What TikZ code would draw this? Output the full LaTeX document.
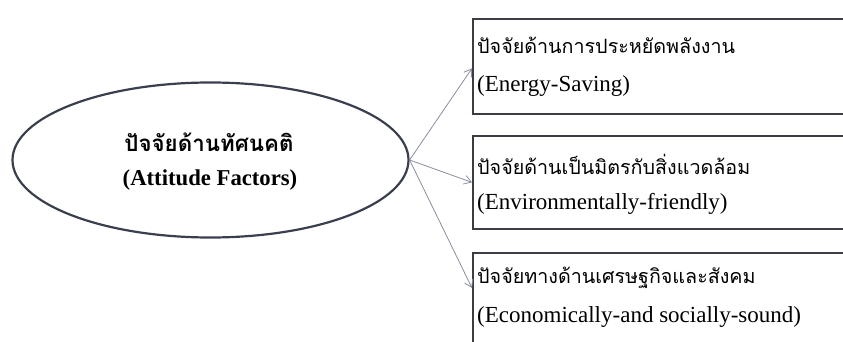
\documentclass[tikz,border=0pt]{standalone}
\usepackage{fontspec}
\setmainfont{Liberation Serif}
\newfontfamily\thaifont[Script=Thai]{Loma}
\usetikzlibrary{shapes.geometric,arrows.meta,calc}
\definecolor{rimcol}{HTML}{3A3F4E}
\definecolor{boxcol}{HTML}{3C3C44}
\definecolor{arrcol}{HTML}{8A8E9C}
\tikzset{
  bigoval/.style={ellipse,draw=rimcol,line width=2.2pt,minimum width=396pt,minimum height=155pt,inner sep=0pt},
  factorbox/.style={rectangle,draw=boxcol,line width=1.8pt,inner sep=0pt,anchor=north west},
  thailine/.style={anchor=west,inner sep=0pt,font=\thaifont\fontsize{19.7}{22}\selectfont},
  engline/.style={anchor=west,inner sep=0pt,font=\fontsize{23}{26}\selectfont},
  link/.style={draw=arrcol,line width=0.8pt,-{Straight Barb[length=7pt,width=9pt]}}
}
\begin{document}
\begin{tikzpicture}[x=1pt,y=-1pt]
  \useasboundingbox (0,0) rectangle (843,342);
  \clip (0,0) rectangle (843,342);
  % central oval
  \node[bigoval] (attitude) at (210.5,160) {};
  \node[inner sep=0pt,font=\thaifont\bfseries\fontsize{22.3}{26}\selectfont] (attth) at (209,142) {ปัจจัยด้านทัศนคติ};
  \node[inner sep=0pt,font=\bfseries\fontsize{22.7}{26}\selectfont] (atten) at (210,180) {(Attitude Factors)};
  % factor boxes
  \node[factorbox,minimum width=400pt,minimum height=95pt] (energy) at (472,18) {};
  \node[factorbox,minimum width=400pt,minimum height=93pt] (enviro) at (472,135) {};
  \node[factorbox,minimum width=400pt,minimum height=110pt] (econ) at (472,252) {};
  \node[thailine] (energyth) at (477,45) {ปัจจัยด้านการประหยัดพลังงาน};
  \node[engline] (energyen) at (477,86) {(Energy-Saving)};
  \node[thailine] (enviroth) at (477,164) {ปัจจัยด้านเป็นมิตรกับสิ่งแวดล้อม};
  \node[engline] (enviroen) at (477,204) {(Environmentally-friendly)};
  \node[thailine] (econth) at (477,278) {ปัจจัยทางด้านเศรษฐกิจและสังคม};
  \node[engline] (econen) at (477,317) {(Economically-and socially-sound)};
  % connectors
  \coordinate (fork) at (attitude.east);
  \draw[link] (fork) -- ($(energy.north west)!0.52!(energy.south west)$);
  \draw[link] (fork) -- ($(enviro.north west)!0.5!(enviro.south west)$);
  \draw[link] (fork) -- ($(econ.north west)+(0,36)$);
\end{tikzpicture}
\end{document}
